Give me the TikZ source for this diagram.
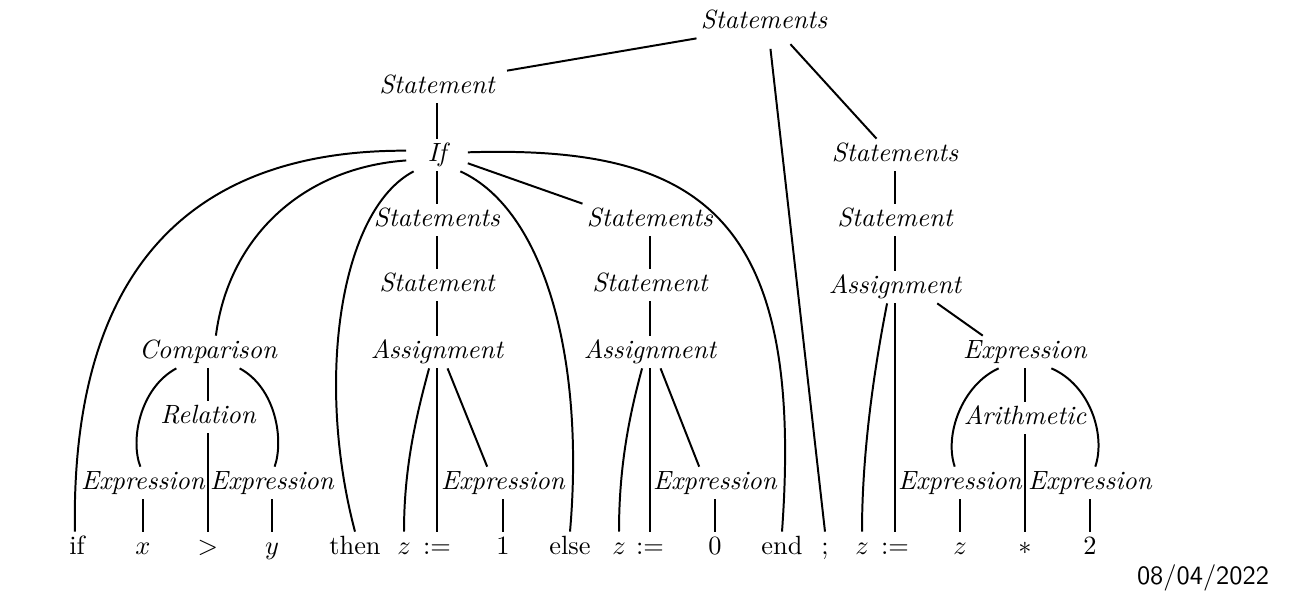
\documentclass[tikz,border=0pt]{standalone}
\begin{document}
\begin{tikzpicture}[x=0.379pt,y=-0.379pt,
  nt/.style={font=\itshape,inner sep=1.5pt,text height=7pt,text depth=2pt},
  lf/.style={inner sep=1.5pt,text height=7pt,text depth=2pt},
  ln/.style={line width=0.75pt}]
\useasboundingbox (0,0) rectangle (1307,614);
% nonterminals
\node[nt] (S0) at (764,22) {Statements};
\node[nt] (St1) at (437,87) {Statement};
\node[nt,inner xsep=8pt] (If) at (437,155) {If};
\node[nt] (S2) at (895,155) {Statements};
\node[nt] (StsA) at (437,220) {Statements};
\node[nt] (StsB) at (650,220) {Statements};
\node[nt] (St2) at (895,220) {Statement};
\node[nt] (StA) at (437,285) {Statement};
\node[nt] (StB) at (650,285) {Statement};
\node[nt] (AsgC) at (895,287) {Assignment};
\node[nt] (Cmp) at (208,352) {Comparison};
\node[nt] (AsgA) at (437,352) {Assignment};
\node[nt] (AsgB) at (650,352) {Assignment};
\node[nt] (ExE) at (1025,352) {Expression};
\node[nt] (Rel) at (208,417) {Relation};
\node[nt] (Ari) at (1025,418) {Arithmetic};
\node[nt] (ExX) at (143,483) {Expression};
\node[nt] (ExY) at (272,483) {Expression};
\node[nt] (ExA) at (503,483) {Expression};
\node[nt] (ExB) at (715,483) {Expression};
\node[nt] (ExZ) at (960,483) {Expression};
\node[nt] (ExT) at (1090,483) {Expression};
% leaves
\node[lf] (Lif) at (77,548) {if};
\node[lf] (Lx) at (143,548) {$x$};
\node[lf] (Lgt) at (208,548) {$>$};
\node[lf] (Ly) at (272,548) {$y$};
\node[lf] (Lthen) at (355,548) {then};
\node[lf] (Lz1) at (404,548) {$z$};
\node[lf] (La1) at (437,548) {:=};
\node[lf] (L1) at (503,548) {1};
\node[lf] (Lelse) at (570,548) {else};
\node[lf] (Lz2) at (619,548) {$z$};
\node[lf] (La2) at (650,548) {:=};
\node[lf] (L0) at (715,548) {0};
\node[lf] (Lend) at (782,548) {end};
\node[lf] (Lsemi) at (825,548) {;};
\node[lf] (Lz3) at (862,548) {$z$};
\node[lf] (La3) at (895,548) {:=};
\node[lf] (Lz4) at (960,548) {$z$};
\node[lf] (Lmul) at (1025,548) {$*$};
\node[lf] (L2) at (1090,548) {2};
\node[font=\sffamily] (date) at (1203,578) {08/04/2022};
% top
\draw[ln] (S0.south west) -- ([xshift=3pt]St1.north east);
\draw[ln,shorten <=4pt] ([xshift=2pt]S0.south) -- (Lsemi.north);
\draw[ln,shorten <=3pt] ([xshift=8pt]S0.south) -- ([xshift=-7pt]S2.north);
% verticals
\draw[ln] (St1.south) -- (If.north);
\draw[ln] (If.south) -- (StsA.north);
\draw[ln] (StsA.south) -- (StA.north);
\draw[ln] (StA.south) -- (AsgA.north);
\draw[ln] (StsB.south) -- (StB.north);
\draw[ln] (StB.south) -- (AsgB.north);
\draw[ln] (S2.south) -- (St2.north);
\draw[ln] (St2.south) -- (AsgC.north);
% If children
\draw[ln] (If.172) .. controls (230,150) and (70,230) .. ([xshift=-0.8pt]Lif.north);
\draw[ln] (If.190) .. controls (300,168) and (228,240) .. ([xshift=3pt]Cmp.north);
\draw[ln] (If.215) .. controls (340,210) and (315,380) .. (Lthen.north);
\draw[ln] (If.325) .. controls (545,210) and (585,360) .. (Lelse.north);
\draw[ln] (If.345) -- (StsB.north west);
\draw[ln] (If.5) .. controls (700,145) and (805,215) .. (Lend.north);
% Comparison
\draw[ln] ([xshift=-12pt]Cmp.south) .. controls (140,388) and (130,440) .. ([xshift=-1pt]ExX.north);
\draw[ln] ([xshift=12pt]Cmp.south) .. controls (276,388) and (284,440) .. ([xshift=1pt]ExY.north);
\draw[ln] (Cmp.south) -- (Rel.north);
\draw[ln] (Rel.south) -- (Lgt.north);
\draw[ln] (ExX.south) -- (Lx.north);
\draw[ln] (ExY.south) -- (Ly.north);
% Assignment A
\draw[ln] ([xshift=-3pt]AsgA.south) .. controls (415,420) and (404,470) .. (Lz1.north);
\draw[ln] (AsgA.south) -- (La1.north);
\draw[ln] ([xshift=4pt]AsgA.south) -- ([xshift=-6pt]ExA.north);
\draw[ln] (ExA.south) -- (L1.north);
% Assignment B
\draw[ln] ([xshift=-3pt]AsgB.south) .. controls (628,420) and (619,470) .. (Lz2.north);
\draw[ln] (AsgB.south) -- (La2.north);
\draw[ln] ([xshift=4pt]AsgB.south) -- ([xshift=-6pt]ExB.north);
\draw[ln] (ExB.south) -- (L0.north);
% Assignment C
\draw[ln] ([xshift=-3pt]AsgC.south) .. controls (872,380) and (862,460) .. (Lz3.north);
\draw[ln] (AsgC.south) -- (La3.north);
\draw[ln] ([xshift=16pt]AsgC.south) -- ([xshift=-16pt]ExE.north);
% Expression E
\draw[ln] ([xshift=-10pt]ExE.south) .. controls (962,385) and (944,435) .. ([xshift=-2pt]ExZ.north);
\draw[ln] ([xshift=10pt]ExE.south) .. controls (1090,385) and (1106,435) .. ([xshift=2pt]ExT.north);
\draw[ln] (ExE.south) -- (Ari.north);
\draw[ln] (Ari.south) -- (Lmul.north);
\draw[ln] (ExZ.south) -- (Lz4.north);
\draw[ln] (ExT.south) -- (L2.north);
\end{tikzpicture}
\end{document}
